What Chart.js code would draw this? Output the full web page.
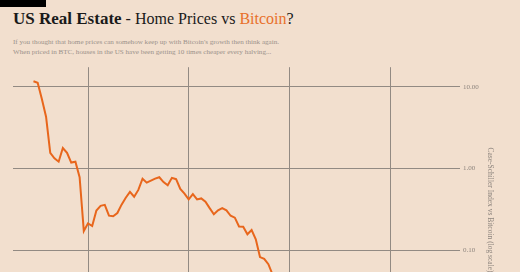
<!DOCTYPE html>
<html>
<head>
<meta charset="utf-8">
<script src="https://cdn.jsdelivr.net/npm/chart.js@4.4.0/dist/chart.umd.min.js"></script>
<style>
  html, body { margin: 0; padding: 0; width: 520px; height: 272px; overflow: hidden; background: #f2dfce; }
  .bar { position: absolute; left: 0; top: 0; width: 46px; height: 7px; background: #000; }
  .title { position: absolute; left: 13px; top: 10px; font-family: "Liberation Serif", serif; font-size: 16px; line-height: 17px; color: #1a1a1a; white-space: nowrap; }
  .title b { font-size: 17px; }
  .title .btc { color: #e8702a; }
  .sub { position: absolute; left: 13px; top: 37px; font-family: "Liberation Serif", serif; font-size: 7.1px; line-height: 10px; color: #9a918a; white-space: nowrap; }
  .wrap { position: absolute; left: 0; top: 60px; width: 520px; height: 300px; }
</style>
</head>
<body>
<div class="bar"></div>
<div class="title"><b>US Real Estate</b> - Home Prices vs <span class="btc">Bitcoin</span>?</div>
<div class="sub">If you thought that home prices can somehow keep up with Bitcoin's growth then think again.<br>When priced in BTC, houses in the US have been getting 10 times cheaper every halving...</div>
<div class="wrap"><canvas id="chart"></canvas></div>
<script>
// monthly Case-Shiller index / BTC price
const months = [
  '2012-12',
  '2013-01', '2013-02', '2013-03', '2013-04', '2013-05', '2013-06', '2013-07', '2013-08', '2013-09', '2013-10', '2013-11', '2013-12',
  '2014-01', '2014-02', '2014-03', '2014-04', '2014-05', '2014-06', '2014-07', '2014-08', '2014-09', '2014-10', '2014-11', '2014-12',
  '2015-01', '2015-02', '2015-03', '2015-04', '2015-05', '2015-06', '2015-07', '2015-08', '2015-09', '2015-10', '2015-11', '2015-12',
  '2016-01', '2016-02', '2016-03', '2016-04', '2016-05', '2016-06', '2016-07', '2016-08', '2016-09', '2016-10', '2016-11', '2016-12',
  '2017-01', '2017-02', '2017-03', '2017-04', '2017-05', '2017-06', '2017-07', '2017-08', '2017-09', '2017-10'
]
const ratio = [
  11.7,
  11.2, 7.1, 4.3, 1.55, 1.33, 1.21, 1.78, 1.55, 1.18, 1.21, 0.78, 0.171,
  0.212, 0.197, 0.305, 0.348, 0.358, 0.264, 0.259, 0.284, 0.36, 0.437, 0.516, 0.45,
  0.545, 0.749, 0.67, 0.708, 0.749, 0.78, 0.68, 0.621, 0.766, 0.738, 0.56, 0.492,
  0.417, 0.484, 0.417, 0.429, 0.392, 0.326, 0.274, 0.306, 0.326, 0.306, 0.263, 0.249,
  0.194, 0.193, 0.156, 0.176, 0.135, 0.082, 0.078, 0.067, 0.05, 0.04
]
const yearTicks = [2014, 2016, 2018, 2020]
const logTicks = [0.01, 0.1, 1, 10]

const points = months.map((m, i) => {
  const [y, mo] = m.split('-').map(Number)
  return { x: y + (mo - 1) / 12, y: ratio[i] }
})

const grid = '#928a83'
const txt = '#8e857e'

new Chart(document.getElementById('chart'), {
  type: 'line',
  data: {
    datasets: [{
      data: points,
      borderColor: '#e8661c',
      borderWidth: 2,
      pointRadius: 0,
      tension: 0,
      clip: false
    }]
  },
  options: {
    responsive: true,
    maintainAspectRatio: false,
    animation: false,
    layout: { padding: { top: 7, left: 13, right: 22, bottom: 0 } },
    plugins: { legend: { display: false }, tooltip: { enabled: false } },
    scales: {
      x: {
        type: 'linear',
        min: 2012.51,
        max: 2021.39,
        afterBuildTicks: s => { s.ticks = yearTicks.map(v => ({ value: v })) },
        ticks: { display: false },
        grid: { color: grid, lineWidth: 1, drawTicks: false },
        border: { display: false }
      },
      y: {
        type: 'logarithmic',
        position: 'right',
        min: 0.0055,
        max: 17.4,
        afterBuildTicks: s => { s.ticks = logTicks.map(v => ({ value: v })) },
        afterFit: s => { s.width = 38 },
        ticks: {
          padding: 3,
          color: txt,
          font: { family: 'Liberation Serif', size: 7 },
          callback: v => v.toFixed(2)
        },
        grid: { color: grid, lineWidth: 1, drawTicks: false },
        border: { display: false },
        title: {
          display: true,
          text: 'Case-Schiller Index vs Bitcoin (log scale)',
          color: txt,
          font: { family: 'Liberation Serif', size: 7.5 },
          padding: 4
        }
      }
    }
  }
})
</script>
</body>
</html>
